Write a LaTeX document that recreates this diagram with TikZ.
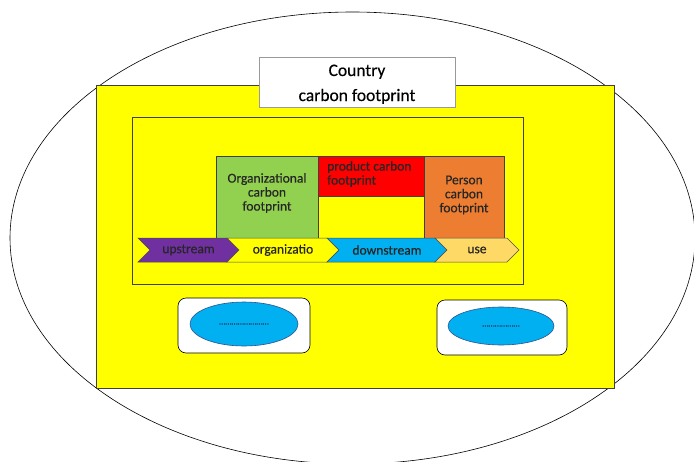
\documentclass[tikz,border=0pt]{standalone}
\usepackage{fontspec}
\setmainfont{Carlito}[FakeBold=0.35]
\usetikzlibrary{shapes.geometric}

\definecolor{frameyellow}{HTML}{FFFF00}
\definecolor{orggreen}{HTML}{92D050}
\definecolor{prodred}{HTML}{FF0000}
\definecolor{personorange}{HTML}{ED7D31}
\definecolor{chevpurple}{HTML}{7030A0}
\definecolor{chevblue}{HTML}{00B0F0}
\definecolor{chevsand}{HTML}{FFD966}
\definecolor{ovalline}{HTML}{2F528F}
\definecolor{dotcolor}{HTML}{1F3864}

\tikzset{
    frame/.style={draw=black!75, line width=0.6pt, fill=frameyellow, inner sep=0pt, anchor=north west},
    footbox/.style={draw=black!75, line width=0.6pt, inner sep=0pt, anchor=north west},
    labeltext/.style={inner sep=0pt, align=center, text=black!85, font=\fontsize{13.5}{14}\selectfont},
    chev/.style={draw=black!70, line width=0.5pt},
    chevtext/.style={inner sep=0pt, text=black!85, font=\fontsize{13.5}{14}\selectfont},
    holder/.style={draw=black, line width=0.6pt, fill=white, rounded corners=8pt, inner sep=0pt},
    oval/.style={ellipse, draw=ovalline, line width=0.6pt, fill=chevblue, inner sep=0pt,
        text=dotcolor, font=\fontsize{9}{10}\selectfont}
}

\begin{document}
\begin{tikzpicture}[x=1pt, y=-1pt]
    \useasboundingbox (0,0) rectangle (694,461);
    \clip (0,0) rectangle (694,461);
    \fill[white] (0,0) rectangle (694,461);

    % World ellipse
    \draw[line width=0.6pt] (352.5,238) ellipse [x radius=342.5, y radius=226];

    % Country frame and title
    \node[frame, minimum width=518, minimum height=303] (country) at (96,85) {};
    \node[footbox, draw=black!40, fill=white, minimum width=196, minimum height=50] (titlebox) at (259,57) {};
    \node[anchor=base, inner sep=0pt, font=\fontsize{17.5}{20}\selectfont] (titletop) at (357,76) {Country};
    \node[anchor=base, inner sep=0pt, font=\fontsize{17.5}{20}\selectfont] (titlebottom) at (357,101) {carbon footprint};

    % Inner frame
    \node[frame, minimum width=391, minimum height=167] (chain) at (132,117) {};

    % Footprint boxes
    \node[footbox, fill=orggreen, minimum width=102, minimum height=82] (orgbox) at (216,156) {};
    \node[labeltext] (orgtext) at (267,193) {Organizational\\carbon\\footprint};
    \node[footbox, fill=prodred, minimum width=106, minimum height=40] (prodbox) at (318,156) {};
    \node[labeltext, anchor=west, align=left] (prodtext) at (327,174) {product carbon\\footprint};
    \node[footbox, fill=personorange, minimum width=80, minimum height=84] (personbox) at (424,156) {};
    \node[labeltext] (persontext) at (464,195) {Person\\carbon\\footprint};

    % Value chain chevrons
    \foreach \xa/\xb/\col/\txt/\nm in {138/227/chevpurple/upstream/up,
        227/327/frameyellow/organizatio/org, 327/435/chevblue/downstream/down,
        435/507/chevsand/use/use} {
        \filldraw[chev, fill=\col] (\xa,238) -- (\xb,238) -- ++(12,12) -- (\xb,262)
            -- (\xa,262) -- ++(12,-12) -- cycle;
        \node[chevtext] (\nm) at ({(\xa+\xb)/2+6},250) {\txt};
    }

    % Lower holders
    \node[holder, minimum width=132, minimum height=55] (lefthold) at (244,325.5) {};
    \node[oval, minimum width=108, minimum height=44] (leftoval) at (244,324) {……………………};
    \node[holder, minimum width=130, minimum height=55] (righthold) at (502,327.5) {};
    \node[oval, minimum width=106, minimum height=38] (rightoval) at (501,326) {………………};
\end{tikzpicture}
\end{document}
